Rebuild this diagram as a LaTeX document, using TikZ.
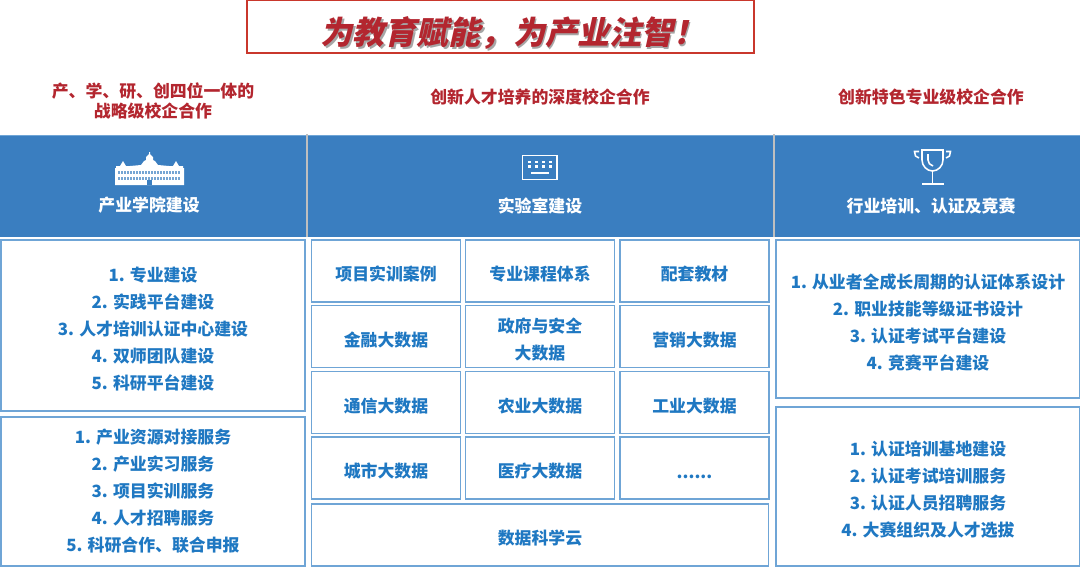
\documentclass[tikz,border=0pt]{standalone}
\usepackage{fontspec}
\usepackage{xcolor}
\setmainfont{Noto Sans CJK SC}
\newfontfamily\titlefont[FakeSlant=0.22,UprightFont=* Black]{Noto Sans CJK SC}
\definecolor{bandblue}{HTML}{3A7EC0}
\definecolor{edgeblue}{HTML}{6FA5D6}
\definecolor{textblue}{HTML}{1F78C2}
\definecolor{redtext}{HTML}{B3262F}
\definecolor{rededge}{HTML}{C9372C}
\newcommand{\shadowed}[1]{\leavevmode\rlap{\kern1.2pt\raisebox{-1.2pt}{\textcolor{black!35}{#1}}}#1}
\newcommand{\low}{\rule{0pt}{15pt}}
\tikzset{
  listbox/.style={draw=edgeblue, line width=1pt, fill=white, inner sep=0pt, minimum width=7.6cm, align=center,
    text=textblue, font=\fontsize{12}{19.2}\selectfont\bfseries},
  cellbox/.style={listbox, minimum width=3.73cm, minimum height=1.55cm},
  redhead/.style={text=redtext, align=center, font=\fontsize{12}{14.2}\selectfont\bfseries},
  bandhead/.style={text=white, font=\fontsize{12}{14}\selectfont\bfseries},
  iconline/.style={draw=white, line width=1.1pt}
}
\begin{document}
\begin{tikzpicture}[x=0.025cm, y=-0.025cm]
    \useasboundingbox (0,0) rectangle (1080,567);
    \node[draw=rededge, line width=1.1pt, minimum width=12.67cm, minimum height=1.32cm, inner sep=0pt] (titlebox) at (500.5,26.5) {};
    \node[text=redtext, font=\titlefont\fontsize{22.8}{28}\selectfont] (title) at (513,34) {\shadowed{为教育赋能，为产业注智！}};

    \node[redhead] (headleft) at (153,101) {产、学、研、创四位一体的\\战略级校企合作};
    \node[redhead] (headmid) at (540,97) {创新人才培养的深度校企合作};
    \node[redhead] (headright) at (931,97) {创新特色专业级校企合作};

    \fill[bandblue] (0,135) rectangle (1080,237);
    \draw[edgeblue, line width=0.6pt] (0,135) -- (1080,135);
    \draw[black!25, line width=1.1pt] (307,134) -- (307,237);
    \draw[black!25, line width=1.1pt] (774,134) -- (774,237);
    \node[bandhead] (bandleft) at (149,205.5) {产业学院建设};
    \node[bandhead] (bandmid) at (540,205.5) {实验室建设};
    \node[bandhead] (bandright) at (931,205.5) {行业培训、认证及竞赛};

    % building
    \fill[white] (115,185) -- (115,168) -- (116,168) -- (116,166) -- (120,166) -- (123,161) -- (126,166) -- (130,166) -- (141,165) -- (144,161) -- (146,160)
      -- (146,157) -- (149,154) -- (149,152) -- (150,152) -- (150,154) -- (153,157) -- (153,160) -- (155,161) -- (158,165)
      -- (169,166) -- (173,166) -- (176,161) -- (179,166) -- (183,166) -- (183,168) -- (184,168) -- (184,185) -- cycle;
    \foreach \x in {118,121,...,178} {
      \fill[bandblue!70!white] (\x,171) rectangle ++(1.6,2.6);
      \fill[bandblue!70!white] (\x,177) rectangle ++(1.6,2.6);
    }
    \fill[bandblue] (147,180) rectangle (152,185);

    % keyboard
    \draw[white, line width=1.4pt] (522.5,155.5) rectangle (557,179.5);
    \foreach \x in {529,536,543,550} {
      \fill[white] (\x-1,160.5) rectangle ++(2.6,2.8);
      \fill[white] (\x-1,165) rectangle ++(2.6,2.8);
    }
    \fill[white] (531,171.5) rectangle (549,174);

    % trophy
    \draw[iconline] (922,150) -- (943,150) -- (943,160) .. controls (943,166) and (938,171) .. (932.5,171)
      .. controls (927,171) and (922,166) .. (922,160) -- cycle;
    \draw[iconline] (928,154) -- (928,160) .. controls (928,163) and (930,165) .. (933,166);
    \draw[iconline] (919,151.5) -- (914.5,151.5) -- (915.5,156) -- (919,158);
    \draw[iconline] (946,151.5) -- (950.5,151.5) -- (949.5,156) -- (946,158);
    \draw[iconline] (932.5,171) -- (932.5,184);
    \draw[iconline] (922,184) -- (944,184);

    \node[listbox, minimum height=4.27cm] (coreleft) at (153,325.5) {\low 1. 专业建设\\2. 实践平台建设\\3. 人才培训认证中心建设\\4. 双师团队建设\\5. 科研平台建设};
    \node[listbox, minimum height=3.72cm] (serviceleft) at (153,491.5) {1. 产业资源对接服务\\2. 产业实习服务\\3. 项目实训服务\\4. 人才招聘服务\\5. 科研合作、联合申报};

    \node[cellbox] (casework) at (386,271) {\low 项目实训案例};
    \node[cellbox] (courses) at (540,271) {\low 专业课程体系};
    \node[cellbox] (books) at (694.5,271) {\low 配套教材};
    \node[cellbox] (finance) at (386,336.5) {\low 金融大数据};
    \node[cellbox] (govern) at (540,336.5) {\low 政府与安全\\大数据};
    \node[cellbox] (market) at (694.5,336.5) {\low 营销大数据};
    \node[cellbox] (telecom) at (386,402.5) {\low 通信大数据};
    \node[cellbox] (farming) at (540,402.5) {\low 农业大数据};
    \node[cellbox] (industry) at (694.5,402.5) {\low 工业大数据};
    \node[cellbox] (city) at (386,468) {\low 城市大数据};
    \node[cellbox] (medical) at (540,468) {\low 医疗大数据};
    \node[cellbox] (others) at (694.5,468) {\low ......};
    \node[cellbox, minimum width=11.43cm] (cloud) at (540,535) {\low 数据科学云};

    \node[listbox, minimum height=3.95cm] (certplan) at (928,319) {\low 1. 从业者全成长周期的认证体系设计\\2. 职业技能等级证书设计\\3. 认证考试平台建设\\4. 竞赛平台建设};
    \node[listbox, minimum height=3.97cm] (certserve) at (928,486.5) {\low 1. 认证培训基地建设\\2. 认证考试培训服务\\3. 认证人员招聘服务\\4. 大赛组织及人才选拔};
\end{tikzpicture}
\end{document}
